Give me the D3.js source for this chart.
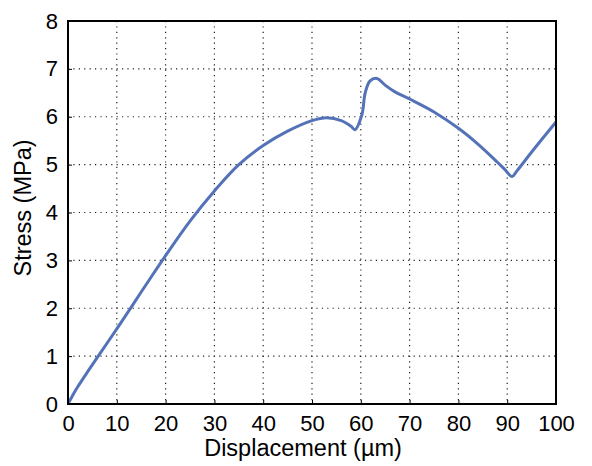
<!DOCTYPE html>
<html>
<head>
    <meta charset="utf-8">
    <script src="https://cdn.jsdelivr.net/npm/d3@7"></script>
    <style>
        body { margin: 0; background: #fff; }
        text { font-family: "Liberation Sans", Arial, sans-serif; fill: #000; }
    </style>
</head>
<body>
    <svg width="592" height="466" id="mainsvg"></svg>
    <script>
        // curve
        const displacement = [0, 1, 2, 4, 7, 10, 13, 16.5, 20, 25, 30, 35, 40, 45, 50, 53, 56, 58, 58.8,
            60.2, 60.9, 61.9, 63.3, 65, 67, 70, 75, 80, 84, 88, 89.5, 91, 92, 95.3, 100];
        const stress = [0, 0.19, 0.36, 0.67, 1.12, 1.57, 2.03, 2.57, 3.1, 3.82, 4.45, 5.0, 5.4, 5.7, 5.92, 5.98, 5.92, 5.8, 5.73,
            6.03, 6.5, 6.75, 6.8, 6.66, 6.52, 6.37, 6.1, 5.76, 5.43, 5.05, 4.9, 4.75, 4.87, 5.3, 5.89];
        const xTicks = [0, 10, 20, 30, 40, 50, 60, 70, 80, 90, 100];
        const yTicks = [0, 1, 2, 3, 4, 5, 6, 7, 8];

        const svg = d3.select('#mainsvg');
        const plotLeft = 68, plotRight = 556, plotTop = 21, plotBottom = 404;

        const x = d3.scaleLinear().domain([0, 100]).range([plotLeft, plotRight]);
        const y = d3.scaleLinear().domain([0, 8]).range([plotBottom, plotTop]);

        // dotted grid
        const grid = svg.append('g')
            .attr('stroke', '#222')
            .attr('stroke-width', 1.2)
            .attr('stroke-dasharray', '1.2,4.2');
        grid.selectAll('.vg').data(xTicks.slice(1, -1)).join('line')
            .attr('x1', d => x(d)).attr('x2', d => x(d))
            .attr('y1', plotTop).attr('y2', plotBottom);
        grid.selectAll('.hg').data(yTicks.slice(1, -1)).join('line')
            .attr('x1', plotLeft).attr('x2', plotRight)
            .attr('y1', d => y(d)).attr('y2', d => y(d));

        // axes
        svg.append('g')
            .attr('transform', `translate(0,${plotBottom})`)
            .call(d3.axisBottom(x).tickValues(xTicks).tickSize(-4).tickPadding(10).tickFormat(d3.format('d')))
            .call(g => g.select('.domain').remove())
            .call(g => g.selectAll('text').attr('font-size', 22).attr('dy', '0.75em'));
        svg.append('g')
            .attr('transform', `translate(${plotLeft},0)`)
            .call(d3.axisLeft(y).tickValues(yTicks).tickSize(-4).tickPadding(10).tickFormat(d3.format('d')))
            .call(g => g.select('.domain').remove())
            .call(g => g.selectAll('text').attr('font-size', 22));

        // the data line
        const line = d3.line()
            .x((d, i) => x(displacement[i]))
            .y(d => y(d))
            .curve(d3.curveCatmullRom.alpha(0.5));
        svg.append('path')
            .datum(stress)
            .attr('fill', 'none')
            .attr('stroke', '#5472b8')
            .attr('stroke-width', 3)
            .attr('stroke-linejoin', 'round')
            .attr('d', line);

        // frame
        svg.append('rect')
            .attr('x', plotLeft).attr('y', plotTop)
            .attr('width', plotRight - plotLeft).attr('height', plotBottom - plotTop)
            .attr('fill', 'none')
            .attr('stroke', '#000')
            .attr('stroke-width', 2);

        svg.append('text')
            .attr('x', 303).attr('y', 456)
            .attr('text-anchor', 'middle')
            .attr('font-size', 23.5)
            .text('Displacement (µm)');
        svg.append('text')
            .attr('transform', 'translate(31,208) rotate(-90)')
            .attr('text-anchor', 'middle')
            .attr('font-size', 23.5)
            .text('Stress (MPa)');
    </script>
</body>
</html>
